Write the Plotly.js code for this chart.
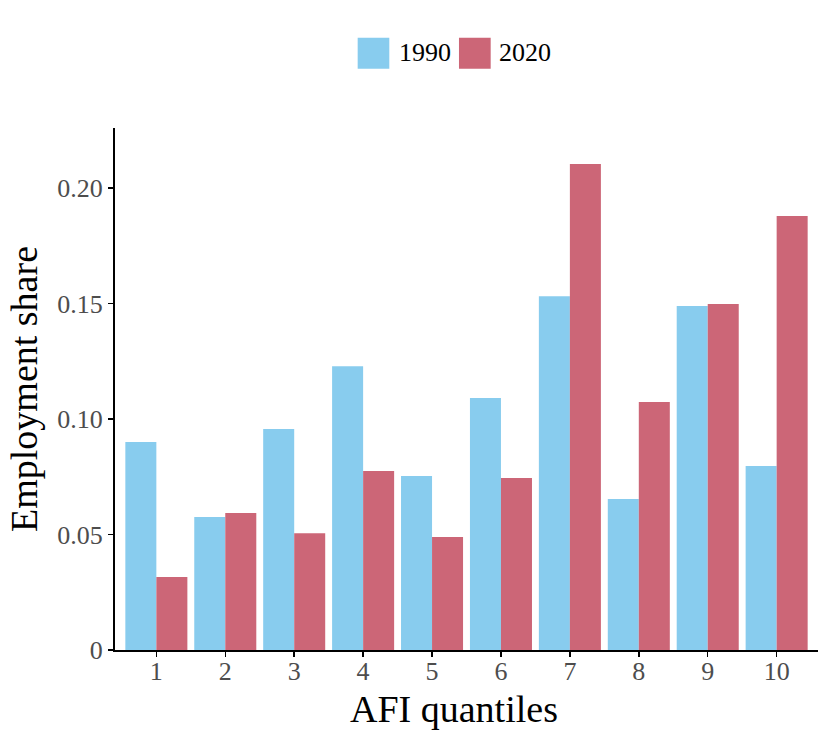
<!DOCTYPE html>
<html>
<head>
<meta charset="utf-8">
<script src="https://cdn.plot.ly/plotly-3.0.1.min.js"></script>
<style>
  html, body { margin: 0; padding: 0; background: #fff; }
  #graph { width: 831px; height: 743px; }
</style>
</head>
<body>
<div id="graph"></div>
<script>
// AFI quantiles on the x axis
let quantiles = [1, 2, 3, 4, 5, 6, 7, 8, 9, 10];
// employment share per quantile
let share_1990 = [0.0900, 0.0576, 0.0957, 0.1229, 0.0753, 0.1091, 0.1532, 0.0654, 0.1489, 0.0797];
let share_2020 = [0.0316, 0.0593, 0.0506, 0.0775, 0.0489, 0.0745, 0.2104, 0.1074, 0.1498, 0.1879];
// y ticks
let y_tickvals = [0, 0.05, 0.10, 0.15, 0.20];
let y_ticktext = ["0", "0.05", "0.10", "0.15", "0.20"];

let col_1990 = "#88CCEE";
let col_2020 = "#CC6677";
let serif = "Liberation Serif, Times New Roman, serif";

let trace1 = {
  x: quantiles,
  y: share_1990,
  name: "1990",
  type: "bar",
  marker: { color: col_1990, line: { width: 0 } },
  hoverinfo: "skip",
};
let trace2 = {
  x: quantiles,
  y: share_2020,
  name: "2020",
  type: "bar",
  marker: { color: col_2020, line: { width: 0 } },
  hoverinfo: "skip",
};

// legend drawn by hand so the keys can be big squares
let legend_items = [
  { label: "1990", color: col_1990, x0: 0.3452, x1: 0.3902, tx: 0.401 },
  { label: "2020", color: col_2020, x0: 0.4893, x1: 0.5344, tx: 0.5434 },
];
let shapes = [];
let annotations = [];
for (let item of legend_items) {
  shapes.push({
    type: "rect",
    xref: "paper",
    yref: "paper",
    x0: item.x0,
    x1: item.x1,
    y0: 1.1136,
    y1: 1.173,
    fillcolor: item.color,
    line: { width: 0 },
  });
  annotations.push({
    xref: "paper",
    yref: "paper",
    x: item.tx,
    y: 1.1437,
    xanchor: "left",
    yanchor: "middle",
    text: item.label,
    showarrow: false,
    font: { family: serif, size: 26, color: "#000" },
  });
}
// x axis title as annotation (sits a little left of the plot centre)
annotations.push({
  xref: "paper",
  yref: "paper",
  x: 0.4822,
  y: -0.1138,
  xanchor: "center",
  yanchor: "middle",
  text: "AFI quantiles",
  showarrow: false,
  font: { family: serif, size: 38, color: "#000" },
});

let layout = {
  width: 831,
  height: 743,
  paper_bgcolor: "#fff",
  plot_bgcolor: "#fff",
  font: { family: serif },
  showlegend: false,
  barmode: "group",
  bargap: 0.1,
  bargroupgap: 0,
  margin: { l: 115, r: 13, t: 128, b: 93 },
  xaxis: {
    range: [0.4, 10.6],
    tickvals: quantiles,
    ticks: "outside",
    ticklen: 5,
    tickwidth: 1.5,
    tickcolor: "#000",
    ticklabelstandoff: -8,
    showline: true,
    linecolor: "#000",
    linewidth: 2,
    showgrid: false,
    zeroline: false,
    fixedrange: true,
    tickfont: { family: serif, size: 26, color: "#4D4D4D" },
  },
  yaxis: {
    range: [0, 0.226],
    tickvals: y_tickvals,
    ticktext: y_ticktext,
    ticks: "outside",
    ticklen: 5,
    tickwidth: 1.5,
    tickcolor: "#000",
    showline: true,
    linecolor: "#000",
    linewidth: 2,
    showgrid: false,
    zeroline: false,
    fixedrange: true,
    tickfont: { family: serif, size: 26, color: "#4D4D4D" },
    title: {
      text: "Employment share",
      font: { family: serif, size: 38, color: "#000" },
      standoff: 8,
    },
  },
  shapes: shapes,
  annotations: annotations,
};

Plotly.newPlot("graph", [trace1, trace2], layout, { displayModeBar: false, staticPlot: true });
</script>
</body>
</html>
